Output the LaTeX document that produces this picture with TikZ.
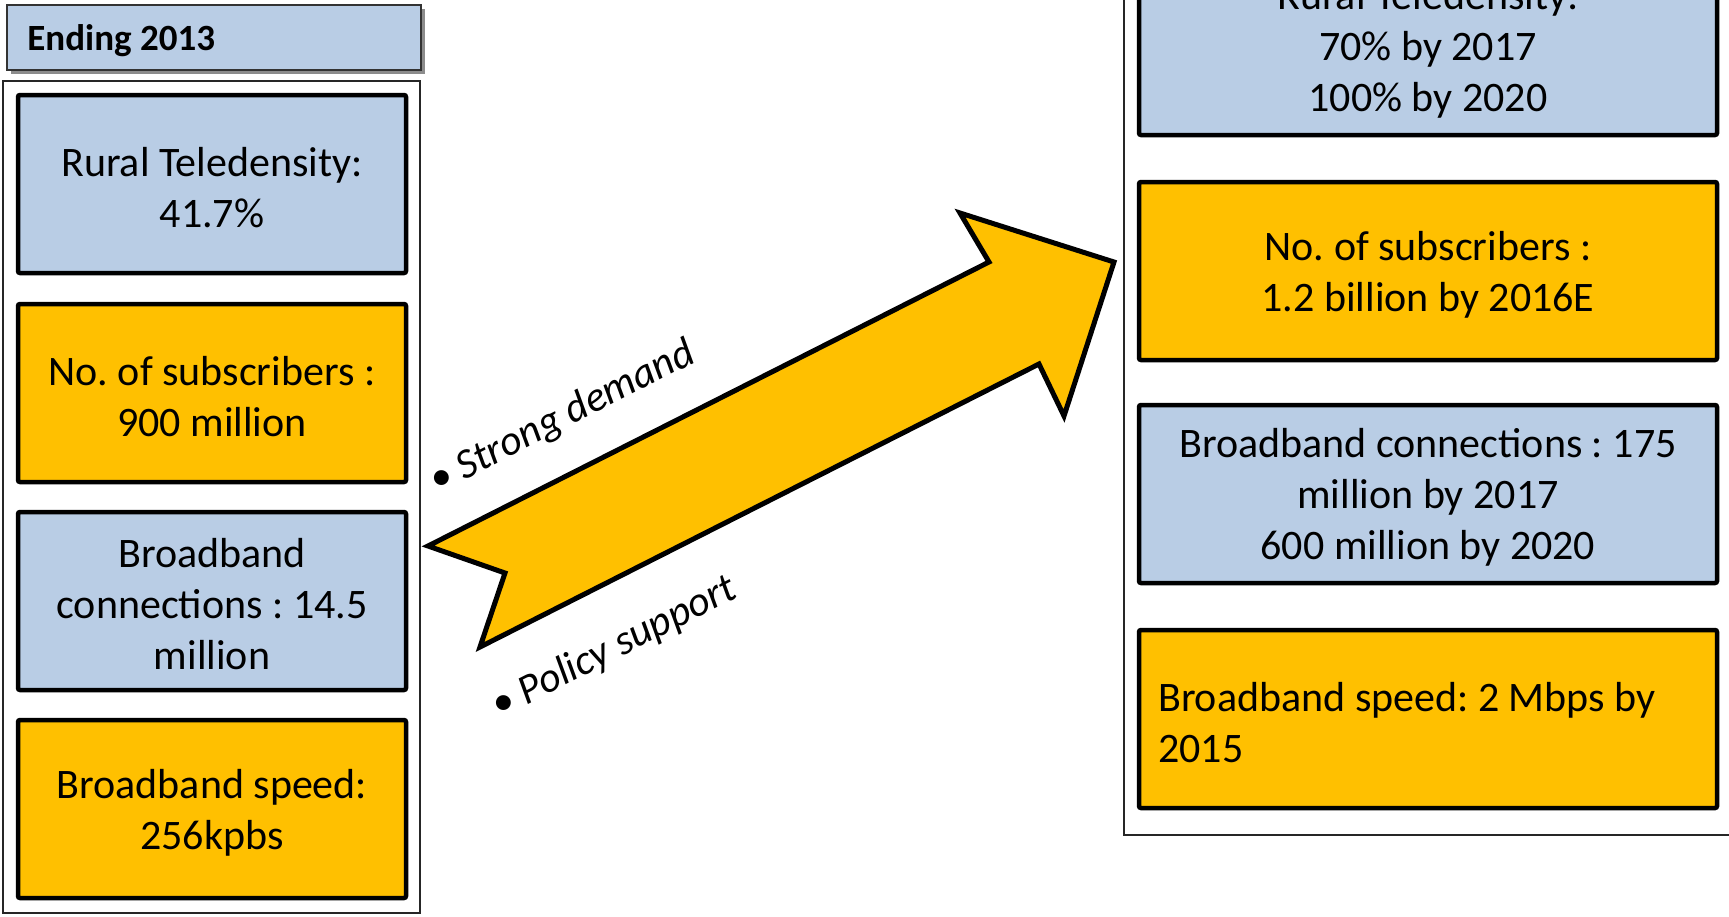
\documentclass[tikz,border=0pt]{standalone}
\usepackage{fontspec}
\setmainfont{Carlito}
\frenchspacing
\definecolor{lblue}{HTML}{B9CDE5}
\definecolor{gold}{HTML}{FFC000}
\newcommand{\bodyfs}{\fontsize{21pt}{25.5pt}\selectfont}
\tikzset{
  box/.style={draw=black, line width=2.25pt, minimum width=194pt, minimum height=89pt, inner sep=0pt, rounded corners=1pt},
  rbox/.style={box, minimum width=289pt},
  bluebox/.style={fill=lblue},
  goldbox/.style={fill=gold},
  txt/.style={align=center, font=\bodyfs, inner sep=0pt, yshift=-1.75pt},
  frame/.style={draw=black!85, line width=1pt},
  hdr/.style={draw=black!80, line width=1pt, fill=lblue, minimum height=32.5pt, minimum width=207pt, inner sep=0pt},
  hdrtxt/.style={anchor=west, inner sep=0pt, yshift=-1.6pt, font=\fontsize{18.5pt}{22pt}\selectfont\bfseries},
  bigarrow/.style={draw=black, line width=2.5pt, fill=gold, line join=miter},
  side/.style={font=\bodyfs\itshape, anchor=base west, rotate=27, inner sep=0pt},
}
\begin{document}
\begin{tikzpicture}[x=0.5pt,y=-0.5pt]
\clip (0,0) rectangle (1729,916);
\fill[white] (0,0) rectangle (1729,916);
% left column
\fill[black!45] (11,9) rectangle (425,74);
\node[hdr] (hdr) at (214,37.5) {};
\node[hdrtxt] (hdrt) at ([xshift=10.5pt]hdr.west) {Ending 2013};
\draw[frame] (3,81) rectangle (420,913);
\node[box,bluebox] (l1) at (212,184) {};
\node[box,goldbox] (l2) at (212,393) {};
\node[box,bluebox] (l3) at (212,601) {};
\node[box,goldbox] (l4) at (212,809) {};
\node[txt] (l1t) at (l1.center) {Rural Teledensity:\\41.7\%};
\node[txt] (l2t) at (l2.center) {No. of subscribers :\\900 million};
\node[txt] (l3t) at (l3.center) {Broadband\\connections : 14.5\\million};
\node[txt] (l4t) at (l4.center) {Broadband speed:\\256kpbs};
% right column
\draw[frame] (1124,-20) rectangle (1760,835);
\node[rbox,bluebox] (r1) at (1428,46) {};
\node[rbox,goldbox] (r2) at (1428,271) {};
\node[rbox,bluebox] (r3) at (1428,494) {};
\node[rbox,goldbox] (r4) at (1428,719) {};
\node[txt] (r1t) at (r1.center) {Rural Teledensity:\\70\% by 2017\\100\% by 2020};
\node[txt] (r2t) at (r2.center) {No. of subscribers :\\1.2 billion by 2016E};
\node[txt] (r3t) at (r3.center) {Broadband connections : 175\\million by 2017\\600 million by 2020};
\node[txt,align=left,anchor=west] (r4t) at ([xshift=10.5pt]r4.west) {Broadband speed: 2 Mbps by\\2015};
% arrow
\draw[bigarrow] (428,546) -- (989,262) -- (960,213) -- (1114,262) -- (1064,416) -- (1039,364) -- (480,647) -- (505,573) -- cycle;
\node[side] (sd) at (437,494) {\textbullet\ Strong demand};
\node[side] (ps) at (499,719) {\textbullet\ Policy support};
\end{tikzpicture}
\end{document}
